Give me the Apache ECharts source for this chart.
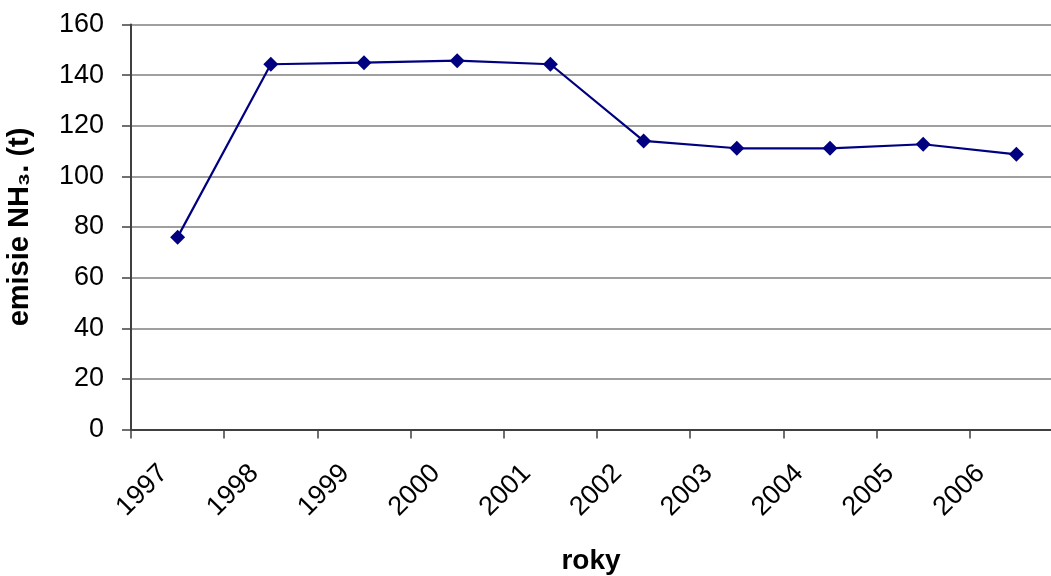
<!DOCTYPE html>
<html>
<head>
<meta charset="utf-8">
<script src="https://cdn.jsdelivr.net/npm/echarts@6/dist/echarts.min.js"></script>
<style>
  html, body { margin: 0; padding: 0; background: #ffffff; }
  #chart { width: 1051px; height: 576px; }
</style>
</head>
<body>
<div id="chart"></div>
<script>
// Annual NH3 emissions (tonnes)
const years = ['1997', '1998', '1999', '2000', '2001', '2002', '2003', '2004', '2005', '2006'];
const emissions = [76, 144.3, 144.9, 145.7, 144.3, 114, 111.1, 111.1, 112.7, 108.7];
const yTicks = { min: 0, max: 160, step: 20 };

const font = '"Liberation Sans", Arial, sans-serif';
const chart = echarts.init(document.getElementById('chart'), null, { renderer: 'canvas' });

const plotTop = 24.5;
const plotHeight = 405;

chart.setOption({
  backgroundColor: '#ffffff',
  animation: false,
  grid: [
    // plot area
    { left: 131, top: plotTop, width: 932, height: plotHeight, containLabel: false, outerBoundsMode: 'none' },
    // band used only for the rotated year labels (slightly tighter spacing)
    { left: 135.8, top: plotTop, width: 908, height: plotHeight, containLabel: false, outerBoundsMode: 'none' }
  ],
  xAxis: [{
    type: 'category',
    gridIndex: 0,
    data: years,
    boundaryGap: true,
    name: 'roky',
    nameLocation: 'middle',
    nameGap: 118,
    nameTextStyle: { fontFamily: font, fontSize: 28, fontWeight: 'bold', color: '#000', padding: [0, 12, 0, 0] },
    axisLine: { lineStyle: { color: '#404040', width: 2 } },
    axisTick: { show: true, inside: false, length: 9, alignWithLabel: false, lineStyle: { color: '#404040', width: 1.5 } },
    axisLabel: { show: false },
    splitLine: { show: false }
  }, {
    type: 'category',
    gridIndex: 1,
    data: years,
    boundaryGap: true,
    axisLine: { show: false },
    axisTick: { show: false },
    axisLabel: {
      rotate: 45,
      interval: 0,
      margin: 22,
      padding: [0, 25, 0, 0],
      fontFamily: font,
      fontSize: 27,
      color: '#000'
    },
    splitLine: { show: false }
  }],
  yAxis: [{
    type: 'value',
    gridIndex: 0,
    min: yTicks.min,
    max: yTicks.max,
    interval: yTicks.step,
    name: 'emisie NH\u2083. (t)',
    nameLocation: 'middle',
    nameGap: 97,
    nameRotate: 90,
    nameTextStyle: { fontFamily: font, fontSize: 29, fontWeight: 'bold', color: '#000' },
    axisLine: { show: true, lineStyle: { color: '#404040', width: 2 } },
    axisTick: { show: true, inside: false, length: 9, lineStyle: { color: '#404040', width: 1.5 } },
    axisLabel: { margin: 27, fontFamily: font, fontSize: 27, color: '#000' },
    splitLine: { show: true, lineStyle: { color: '#7f7f7f', width: 1.5 } }
  }, {
    type: 'value',
    gridIndex: 1,
    min: yTicks.min,
    max: yTicks.max,
    show: false
  }],
  series: [{
    type: 'line',
    xAxisIndex: 0,
    yAxisIndex: 0,
    data: emissions,
    symbol: 'diamond',
    symbolSize: 15,
    lineStyle: { color: '#000080', width: 2.2 },
    itemStyle: { color: '#000080' },
    z: 3
  }]
});
</script>
</body>
</html>
